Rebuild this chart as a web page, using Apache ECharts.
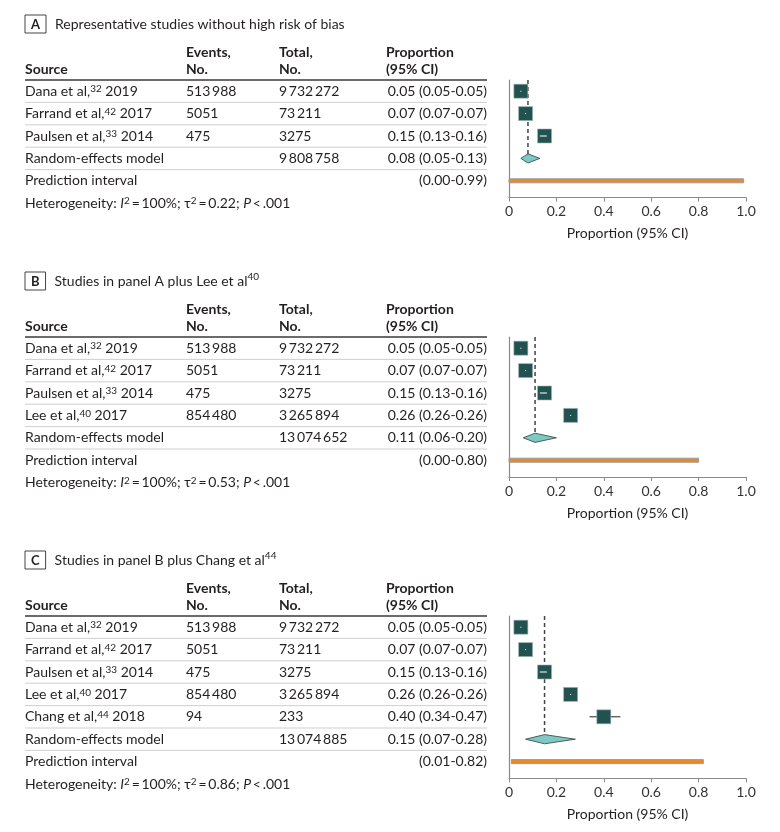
<!DOCTYPE html>
<html><head><meta charset="utf-8">
<script src="https://cdn.jsdelivr.net/npm/echarts@6/dist/echarts.min.js"></script>
<style>html,body{margin:0;padding:0;background:#fff}#c{width:780px;height:832px}</style>
</head><body><div id="c"></div>
<script>
// ---------------- DATA ----------------
const panelLetters = ['A', 'B', 'C'];
const panelTitles = ['Representative studies without high risk of bias', 'Studies in panel A plus Lee et al', 'Studies in panel B plus Chang et al'];
const panelTitleRefs = ['', '40', '44'];

const studyNames = ['Dana et al,', 'Farrand et al,', 'Paulsen et al,', 'Lee et al,', 'Chang et al,'];
const studyRefs = ['32', '42', '33', '40', '44'];
const studyYears = ['2019', '2017', '2014', '2017', '2018'];
const studyEvents = ['513\u2009988', '5051', '475', '854\u2009480', '94'];
const studyTotals = ['9\u2009732\u2009272', '73\u2009211', '3275', '3\u2009265\u2009894', '233'];
const studyEst = [0.05, 0.07, 0.15, 0.26, 0.40];
const studyLow = [0.05, 0.07, 0.13, 0.26, 0.34];
const studyHigh = [0.05, 0.07, 0.16, 0.26, 0.47];
const panelStudyCounts = [3, 4, 5];

const reTotals = ['9\u2009808\u2009758', '13\u2009074\u2009652', '13\u2009074\u2009885'];
const reEst = [0.08, 0.11, 0.15];
const reLow = [0.05, 0.06, 0.07];
const reHigh = [0.13, 0.20, 0.28];
const piLow = [0.00, 0.00, 0.01];
const piHigh = [0.99, 0.80, 0.82];
const hetI2 = ['100%', '100%', '100%'];
const hetTau2 = ['0.22', '0.53', '0.86'];
const hetP = ['.001', '.001', '.001'];

const xTicks = [0, 0.2, 0.4, 0.6, 0.8, 1.0];
const xTickLabels = ['0', '0.2', '0.4', '0.6', '0.8', '1.0'];
const axisTitle = 'Proportion (95% CI)';

// ---------------- LAYOUT / STYLE ----------------
const FONT = 'Lato';
const FS = 14;
const TXT = '#231f20';
const RS = 22.4;
const headerLineY = [80, 337, 616];
const PLOT_LEFT = 509, PLOT_W = 237;
const TABLE_LEFT = 25, TABLE_W = 462;
const COL_SRC = 0, COL_EV = 161, COL_TOT = 254, COL_PROP = 361, COL_END = 462;
const SQ = 14;
const C_SQ = '#22524f', C_DIA = '#7ec9c4', C_PI = '#e8892b';

const rich = {
  sup: { fontSize: 10, fontFamily: FONT, fill: TXT, verticalAlign: 'top', lineHeight: 10 },
  it: { fontSize: FS, fontFamily: FONT, fill: TXT, fontStyle: 'italic' },
  box: { fontSize: 13, fontFamily: FONT, fill: TXT, fontWeight: 'bold', borderColor: '#444', borderWidth: 1, padding: [3, 6, 2, 6] },
  gap: { width: 9 },
  b: { fontSize: FS, fontFamily: FONT, fill: TXT, fontWeight: 'bold' }
};

const fmt = v => v.toFixed(2);

const grids = [], xAxes = [], yAxes = [], series = [];

for (let p = 0; p < 3; p++) {
  const k = panelStudyCounts[p];
  const n = k + 2; // studies + RE + PI
  const T = headerLineY[p];
  // plot grid
  const yMaxPlot = n - 1 + 0.75;
  grids.push({ left: PLOT_LEFT, top: T, width: PLOT_W, height: (yMaxPlot + 0.5) * RS });
  xAxes.push({
    gridIndex: grids.length - 1, type: 'value', min: 0, max: 1, interval: 0.2,
    name: axisTitle, nameLocation: 'middle', nameGap: 29,
    nameTextStyle: { fontSize: FS, fontFamily: FONT, color: TXT },
    axisLine: { show: true, onZero: false, lineStyle: { color: '#8a8a8a', width: 1.2 } },
    axisTick: { show: true, length: 4, lineStyle: { color: '#8a8a8a' } },
    axisLabel: { fontSize: FS, fontFamily: FONT, color: '#333', margin: 7,
      formatter: v => { const i = xTicks.findIndex(t => Math.abs(t - v) < 1e-6); return i >= 0 ? xTickLabels[i] : ''; } },
    splitLine: { show: false }
  });
  yAxes.push({
    gridIndex: grids.length - 1, type: 'value', inverse: true, min: -0.5, max: yMaxPlot,
    axisLine: { show: true, onZero: false, lineStyle: { color: '#8a8a8a', width: 1.2 } },
    axisTick: { show: false }, axisLabel: { show: false }, splitLine: { show: false }
  });
  const gPlot = grids.length - 1;

  // table grid (same vertical scale)
  const yMinT = -3.4, yMaxT = n + 0.6;
  grids.push({ left: TABLE_LEFT, top: T + (yMinT + 0.5) * RS, width: TABLE_W, height: (yMaxT - yMinT) * RS });
  xAxes.push({ gridIndex: grids.length - 1, type: 'value', min: 0, max: TABLE_W, show: false });
  yAxes.push({ gridIndex: grids.length - 1, type: 'value', inverse: true, min: yMinT, max: yMaxT, show: false });
  const gTab = grids.length - 1;

  // ---- plot series ----
  const studyData = [];
  for (let i = 0; i < k; i++) studyData.push([studyEst[i], studyLow[i], studyHigh[i], i]);
  series.push({
    type: 'custom', xAxisIndex: gPlot, yAxisIndex: gPlot, data: studyData, silent: true, z: 3,
    renderItem: (params, api) => {
      const est = api.value(0), lo = api.value(1), hi = api.value(2), row = api.value(3);
      const c = api.coord([est, row]), l = api.coord([lo, row]), h = api.coord([hi, row]);
      const inside = l[0] >= c[0] - SQ / 2 && h[0] <= c[0] + SQ / 2;
      const ch = [];
      if (!inside) ch.push({ type: 'line', shape: { x1: l[0], y1: c[1], x2: h[0], y2: c[1] }, style: { stroke: '#222', lineWidth: 1 } });
      ch.push({ type: 'rect', shape: { x: c[0] - SQ / 2, y: c[1] - SQ / 2, width: SQ, height: SQ }, style: { fill: C_SQ, stroke: '#9fb5b3', lineWidth: 0.6 } });
      if (inside) {
        const a = Math.min(l[0], c[0] - 0.5), b = Math.max(h[0], c[0] + 0.5);
        ch.push({ type: 'line', shape: { x1: a, y1: c[1], x2: b, y2: c[1] }, style: { stroke: '#fff', lineWidth: 1 } });
      }
      return { type: 'group', children: ch };
    }
  });
  // dashed line at pooled estimate
  series.push({
    type: 'custom', xAxisIndex: gPlot, yAxisIndex: gPlot, data: [[reEst[p], k]], silent: true, z: 1,
    renderItem: (params, api) => {
      const top = api.coord([api.value(0), -0.5]), bot = api.coord([api.value(0), api.value(1)]);
      return { type: 'line', shape: { x1: top[0], y1: top[1], x2: bot[0], y2: bot[1] - 4 }, style: { stroke: '#444', lineWidth: 1.5, lineDash: [4, 3] } };
    }
  });
  // diamond
  series.push({
    type: 'custom', xAxisIndex: gPlot, yAxisIndex: gPlot, data: [[reEst[p], reLow[p], reHigh[p], k]], silent: true, z: 3,
    renderItem: (params, api) => {
      const row = api.value(3);
      const c = api.coord([api.value(0), row]), l = api.coord([api.value(1), row]), h = api.coord([api.value(2), row]);
      return { type: 'polygon', shape: { points: [[l[0], c[1]], [c[0], c[1] - 4.6], [h[0], c[1]], [c[0], c[1] + 4.6]] }, style: { fill: C_DIA, stroke: '#2d3f3f', lineWidth: 0.8 } };
    }
  });
  // prediction interval
  series.push({
    type: 'custom', xAxisIndex: gPlot, yAxisIndex: gPlot, data: [[piLow[p], piHigh[p], k + 1]], silent: true,
    renderItem: (params, api) => {
      const row = api.value(2);
      const l = api.coord([api.value(0), row]), h = api.coord([api.value(1), row]);
      return { type: 'rect', shape: { x: l[0], y: l[1] - 2, width: h[0] - l[0], height: 4 }, style: { fill: C_PI, stroke: '#9a9a9a', lineWidth: 1 } };
    }
  });

  // ---- table series ----
  const cells = []; // [x, row, text, align, bold]
  const titleTxt = '{box|' + panelLetters[p] + '}{gap|}' + panelTitles[p] + (panelTitleRefs[p] ? '{sup|' + panelTitleRefs[p] + '}' : '');
  cells.push([COL_SRC, -3.0, titleTxt, 'left', false]);
  cells.push([COL_SRC, -0.95, 'Source', 'left', true]);
  cells.push([COL_EV, -1.75, 'Events,', 'left', true]);
  cells.push([COL_EV, -0.95, 'No.', 'left', true]);
  cells.push([COL_TOT, -1.75, 'Total,', 'left', true]);
  cells.push([COL_TOT, -0.95, 'No.', 'left', true]);
  cells.push([COL_PROP, -1.75, 'Proportion', 'left', true]);
  cells.push([COL_PROP, -0.95, '(95% CI)', 'left', true]);
  for (let i = 0; i < k; i++) {
    cells.push([COL_SRC, i, studyNames[i] + '{sup|' + studyRefs[i] + '} ' + studyYears[i], 'left', false]);
    cells.push([COL_EV, i, studyEvents[i], 'left', false]);
    cells.push([COL_TOT, i, studyTotals[i], 'left', false]);
    cells.push([COL_END, i, fmt(studyEst[i]) + ' (' + fmt(studyLow[i]) + '-' + fmt(studyHigh[i]) + ')', 'right', false]);
  }
  cells.push([COL_SRC, k, 'Random-effects model', 'left', false]);
  cells.push([COL_TOT, k, reTotals[p], 'left', false]);
  cells.push([COL_END, k, fmt(reEst[p]) + ' (' + fmt(reLow[p]) + '-' + fmt(reHigh[p]) + ')', 'right', false]);
  cells.push([COL_SRC, k + 1, 'Prediction interval', 'left', false]);
  cells.push([COL_END, k + 1, '(' + fmt(piLow[p]) + '-' + fmt(piHigh[p]) + ')', 'right', false]);
  cells.push([COL_SRC, k + 2, 'Heterogeneity: {it|I}{sup|2}\u2009=\u2009' + hetI2[p] + '; \u03c4{sup|2}\u2009=\u2009' + hetTau2[p] + '; {it|P}\u2009<\u2009' + hetP[p], 'left', false]);

  series.push({
    type: 'custom', xAxisIndex: gTab, yAxisIndex: gTab, silent: true,
    data: cells.map(c => [c[0], c[1]]),
    renderItem: (params, api) => {
      const cell = cells[params.dataIndex];
      const pt = api.coord([api.value(0), api.value(1)]);
      return { type: 'text', x: pt[0], y: pt[1], style: {
        text: cell[2], rich: rich, fill: TXT, fontSize: FS, fontFamily: FONT,
        fontWeight: cell[4] ? 'bold' : 'normal', align: cell[3], verticalAlign: 'middle' } };
    }
  });
  // table rules
  const rules = [[-0.5, 1]];
  for (let i = 0; i <= k; i++) rules.push([i + 0.5, 0]);
  series.push({
    type: 'custom', xAxisIndex: gTab, yAxisIndex: gTab, silent: true, data: rules,
    renderItem: (params, api) => {
      const y = api.value(0), heavy = api.value(1) === 1;
      const a = api.coord([0, y]), b = api.coord([TABLE_W, y]);
      return { type: 'line', shape: { x1: a[0], y1: a[1], x2: b[0], y2: b[1] }, style: { stroke: heavy ? '#3a3a3a' : '#cfcfcf', lineWidth: heavy ? 1.6 : 1 } };
    }
  });
}

const chart = echarts.init(document.getElementById('c'), null, { renderer: 'canvas' });
chart.setOption({ animation: false, backgroundColor: '#fff', grid: grids, xAxis: xAxes, yAxis: yAxes, series: series });
</script></body></html>
